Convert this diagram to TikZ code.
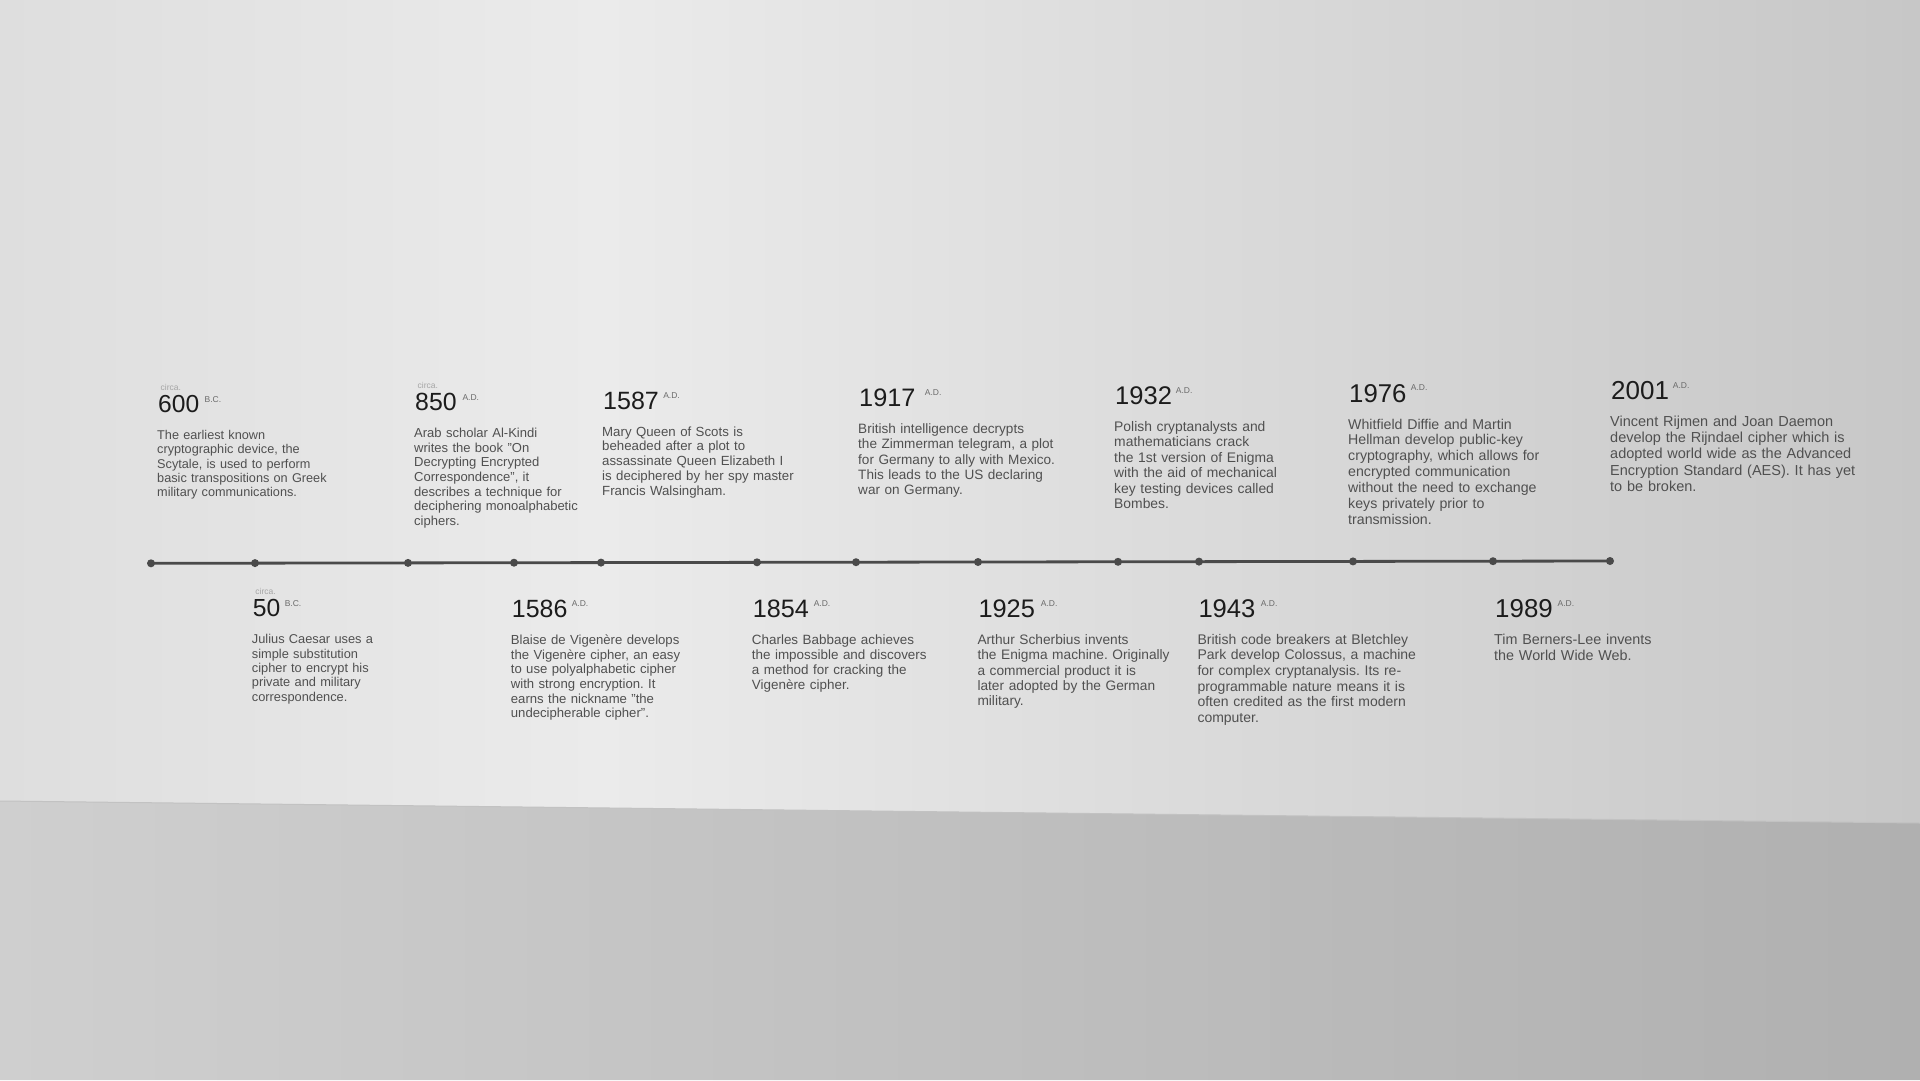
\documentclass[tikz,border=0pt]{standalone}
\usepackage{fontspec}
\setmainfont{Liberation Sans}
\frenchspacing
\usetikzlibrary{positioning, calc}
\definecolor{cwallside}{HTML}{DEDEDE}
\definecolor{cwallhi}{HTML}{EBEBEB}
\definecolor{cwallfar}{HTML}{C7C7C7}
\definecolor{cfloorl}{HTML}{CFCFCF}
\definecolor{cfloorr}{HTML}{B0B0B0}
\definecolor{cedge}{HTML}{C2C2C2}
\definecolor{cline}{HTML}{4A4A4A}
\definecolor{cink}{HTML}{1C1C1C}
\definecolor{cdesc}{HTML}{505050}
\definecolor{cera}{HTML}{6A6A6A}
\definecolor{ccirca}{HTML}{A5A5A5}
\tikzset{
  axis/.style={draw=cline, line width=2.8pt},
  dot/.style={circle, fill=cline, inner sep=0pt, minimum size=8pt},
  year/.style={inner sep=0pt, text=cink, anchor=base west},
  era/.style={inner sep=0pt, text=cera, font=\fontsize{8.5}{9}\selectfont, anchor=north west},
  circa/.style={inner sep=0pt, text=ccirca, font=\fontsize{8.5}{9}\selectfont, anchor=base west},
  desc/.style={inner sep=0pt, text=cdesc, text width=260pt, align=left, anchor=base west},
}

\begin{document}
\begin{tikzpicture}[x=1pt, y=-1pt]
  \useasboundingbox (0,0) rectangle (1920,1080);
  % wall and floor
  \shade[left color=cwallside, right color=cwallhi] (0,0) rectangle (600,823);
  \shade[left color=cwallhi, right color=cwallfar] (600,0) rectangle (1920,823);
  \shade[left color=cfloorl, right color=cfloorr] (0,801) -- (1920,823) -- (1920,1080) -- (0,1080) -- cycle;
  \draw[cedge, line width=1pt] (0,801) -- (1920,823);

  % the time line
  \foreach \i/\x/\y in {1/151/563.3, 2/255/563.1, 3/408/562.9, 4/514/562.7, 5/601/562.6,
      6/757/562.3, 7/856/562.2, 8/978/562.0, 9/1118/561.8, 10/1199/561.6,
      11/1353/561.4, 12/1493/561.2, 13/1610/561.0}
    \coordinate (m\i) at (\x,\y);
  \draw[axis] (m1) -- (m13);
  \foreach \i in {1,...,13}
    \node[dot] (dot\i) at (m\i) {};

  % milestones
  \foreach \n/\x/\y/\era/\g/\txt in {
    600/158/412.7/B.C./5/{The earliest known\\cryptographic device, the\\Scytale, is used to perform\\basic transpositions on Greek\\military communications.},
    850/415/410.7/A.D./5.5/{Arab scholar Al-Kindi\\writes the book "On\\Decrypting Encrypted\\Correspondence", it\\describes a technique for\\deciphering monoalphabetic\\ciphers.},
    1587/603/409/A.D./4/{Mary Queen of Scots is\\beheaded after a plot to\\assassinate Queen Elizabeth I\\is deciphered by her spy master\\Francis Walsingham.},
    1917/859/406.7/A.D./9/{British intelligence decrypts\\the Zimmerman telegram, a plot\\for Germany to ally with Mexico.\\This leads to the US declaring\\war on Germany.},
    1932/1115/404/A.D./3.5/{Polish cryptanalysts and\\mathematicians crack\\the 1st version of Enigma\\with the aid of mechanical\\key testing devices called\\Bombes.},
    1976/1349/402/A.D./4/{Whitfield Diffie and Martin\\Hellman develop public-key\\cryptography, which allows for\\encrypted communication\\without the need to exchange\\keys privately prior to\\transmission.},
    2001/1611/399.3/A.D./3.5/{Vincent Rijmen and Joan Daemon\\develop the Rijndael cipher which is\\adopted world wide as the Advanced\\Encryption Standard (AES). It has yet\\to be broken.},
    50/252.7/616.7/B.C./4/{Julius Caesar uses a\\simple substitution\\cipher to encrypt his\\private and military\\correspondence.},
    1586/511.7/617.3/A.D./4/{Blaise de Vigenère develops\\the Vigenère cipher, an easy\\to use polyalphabetic cipher\\with strong encryption. It\\earns the nickname "the\\undecipherable cipher".},
    1854/752.7/617.3/A.D./4.5/{Charles Babbage achieves\\the impossible and discovers\\a method for cracking the\\Vigenère cipher.},
    1925/978.3/617.3/A.D./5.5/{Arthur Scherbius invents\\the Enigma machine. Originally\\a commercial product it is\\later adopted by the German\\military.},
    1943/1198.3/617.3/A.D./5/{British code breakers at Bletchley\\Park develop Colossus, a machine\\for complex cryptanalysis. Its re-\\programmable nature means it is\\often credited as the first modern\\computer.},
    1989/1495/617.3/A.D./4.5/{Tim Berners-Lee invents\\the World Wide Web.}
  }{
    \pgfmathsetmacro\fs{12.7+1.8*(\x-155)/1457}
    \pgfmathsetmacro\ls{1.12*\fs}
    \pgfmathsetmacro\ys{24.6+1.4*(\x-155)/1457}
    \node[year, font=\fontsize{\ys}{\ys}\selectfont] (yr\n) at (\x,\y) {\n};
    \node[era] (era\n) at ([xshift=\g pt, yshift=-1pt]yr\n.north east) {\era};
    \node[desc, font=\fontsize{\fs}{\ls}\selectfont] (txt\n) at ([xshift=-1pt, yshift=-27pt]yr\n.base west) {\txt};
  }
  \foreach \n in {600, 850, 50}
    \node[circa] (circa\n) at ([xshift=2.5pt, yshift=22pt]yr\n.base west) {circa.};
\end{tikzpicture}
\end{document}
